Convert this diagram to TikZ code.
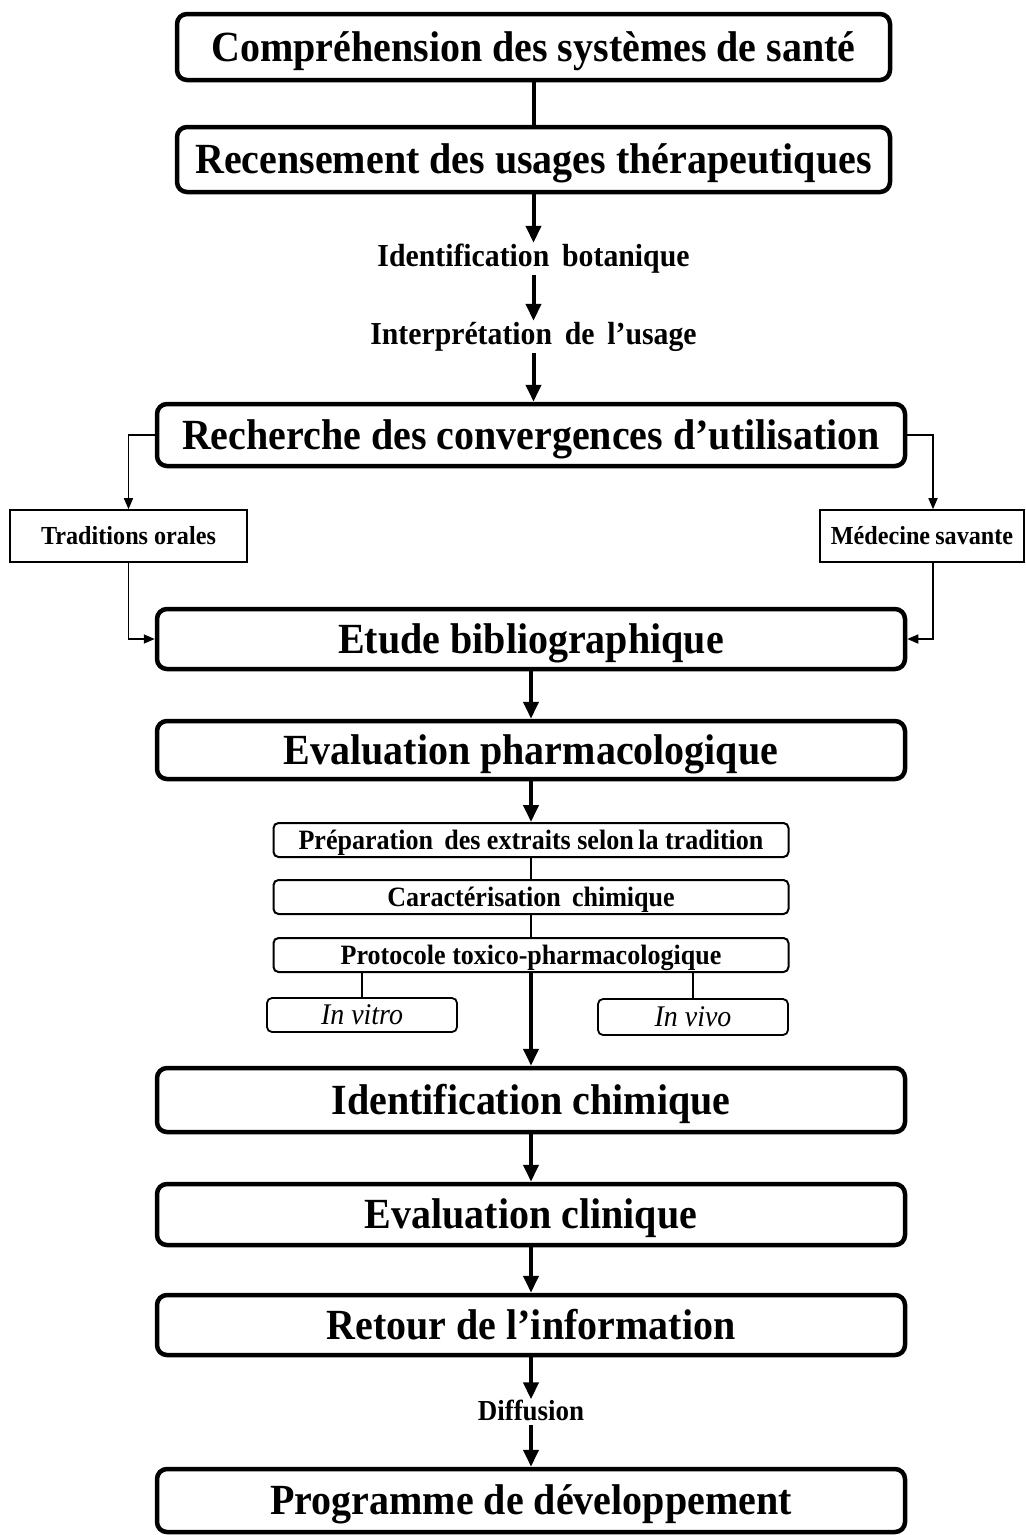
\documentclass[tikz,border=0pt]{standalone}
\usepackage{fontspec}
\setmainfont[FakeStretch=0.93]{Liberation Serif}
\usetikzlibrary{arrows.meta,calc}
\begin{document}
\begin{tikzpicture}[x=1pt,y=-1pt,
  bigbox/.style={draw=black, line width=4.5pt, rounded corners=10pt, minimum width=748pt, inner sep=0pt,
    font=\fontsize{43}{46}\selectfont\bfseries, text height=28.5pt, text depth=0pt},
  smallbox/.style={draw=black, line width=2pt, rounded corners=5pt, minimum width=515pt, minimum height=34pt, inner sep=0pt,
    font=\fontsize{28}{30}\selectfont\bfseries, text height=18pt, text depth=0pt},
  subbox/.style={draw=black, line width=1.8pt, rounded corners=5pt, minimum width=190pt, minimum height=34pt, inner sep=0pt,
    font=\fontsize{30}{32}\selectfont\itshape, text height=19pt, text depth=0pt},
  sidebox/.style={draw=black, line width=1.6pt, minimum height=52pt, inner sep=0pt,
    font=\fontsize{26}{28}\selectfont\bfseries, text height=17pt, text depth=0pt},
  lab/.style={font=\fontsize{32}{36}\selectfont\bfseries, inner sep=2pt, text height=21pt, text depth=7pt},
  arr/.style={line width=4pt, -{Triangle[width=15pt,length=17pt]}},
  plain/.style={line width=4pt},
  thin/.style={line width=2pt},
  thinarr/.style={line width=1.6pt, -{Triangle[width=9pt,length=11pt]}}
]
\useasboundingbox (0,0) rectangle (1026,1535);

% main boxes
\node[bigbox, minimum width=713pt, minimum height=66pt] (b1) at (533.5,47) {Compréhension des systèmes de santé};
\node[bigbox, minimum width=713pt, minimum height=65pt] (b2) at (533.5,159.5) {Recensement des usages thérapeutiques};
\node[lab] (ib) at (533.5,259) {Identification\, botanique};
\node[lab] (iu) at (533.5,337) {Interprétation\, de\, l’usage};
\node[bigbox, minimum height=62pt] (b3) at (531,435) {Recherche des convergences d’utilisation};

\node[sidebox, minimum width=237pt] (to) at (128.5,536) {Traditions orales};
\node[sidebox, minimum width=204pt] (ms) at (922,536) {Médecine\kern-1pt\ savante};

\node[bigbox, minimum height=60pt] (eb) at (531,639) {Etude bibliographique};
\node[bigbox, minimum height=58pt] (ep) at (531,750) {Evaluation pharmacologique};

\node[smallbox] (prep) at (531,840) {Préparation\, des extraits selon\kern-2pt\ la tradition};
\node[smallbox] (car) at (531,897) {Caractérisation\, chimique};
\node[smallbox] (pro) at (531,955) {Protocole toxico-pharmacologique};
\node[subbox] (vitro) at (362,1015) {In vitro};
\node[subbox, minimum height=36pt] (vivo) at (693,1017) {In vivo};

\node[bigbox, minimum height=64pt] (ic) at (531,1100) {Identification chimique};
\node[bigbox, minimum height=61pt] (ec) at (531,1214.5) {Evaluation clinique};
\node[bigbox, minimum height=60pt] (ri) at (531,1325) {Retour de l’information};
\node[lab, font=\fontsize{29}{32}\selectfont\bfseries, text height=19pt, text depth=2pt] (df) at (531,1412) {Diffusion};
\node[bigbox, minimum height=63pt] (pd) at (531,1500.5) {Programme de développement};

% connectors
\draw[plain] (b1.south) -- (b2.north);
\draw[arr] (b2.south) -- (ib.north);
\draw[arr] (ib.south) -- (iu.north);
\draw[arr] (iu.south) -- (iu.south |- b3.north);

\draw[thinarr] (b3.west) -| (to.north);
\draw[thinarr] (b3.east) -| ([xshift=11pt]ms.north);
\draw[thinarr] (to.south) |- (eb.west);
\draw[thinarr] ([xshift=11pt]ms.south) |- (eb.east);

\draw[arr] (eb.south) -- (ep.north);
\draw[arr] (ep.south) -- (prep.north);
\draw[thin] (prep.south) -- (car.north);
\draw[thin] (car.south) -- (pro.north);
\draw[line width=1.6pt] (vitro.north |- pro.south) -- (vitro.north);
\draw[line width=1.6pt] (vivo.north |- pro.south) -- (vivo.north);
\draw[arr] (pro.south) -- (ic.north);

\draw[arr] (ic.south) -- (ec.north);
\draw[arr] (ec.south) -- (ri.north);
\draw[arr] (ri.south) -- (df.north);
\draw[arr] (df.south) -- (pd.north);
\end{tikzpicture}
\end{document}
